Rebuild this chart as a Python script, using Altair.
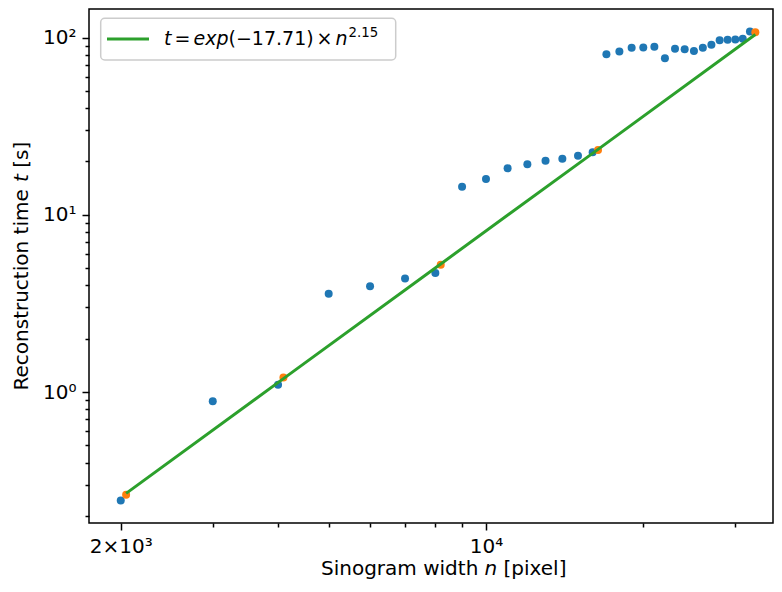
import altair as alt
import pandas as pd

# ---------------- data ----------------
n_blue = [2000, 3000, 4000, 5000, 6000, 7000, 8000, 9000, 10000, 11000,
          12000, 13000, 14000, 15000, 16000, 17000, 18000, 19000, 20000,
          21000, 22000, 23000, 24000, 25000, 26000, 27000, 28000, 29000,
          30000, 31000, 32000]
t_blue = [0.244, 0.888, 1.098, 3.59, 3.95, 4.37, 4.70, 14.4, 15.9, 18.3,
          19.3, 20.2, 20.7, 21.5, 22.5, 80.4, 83.3, 87.7, 88.0,
          88.8, 76.4, 86.5, 85.8, 83.9, 87.7, 91.1, 96.6, 97.1,
          97.5, 98.4, 108.0]

n_orange = [2048, 4096, 8192, 16384, 32768]
t_orange = [0.263, 1.206, 5.23, 23.2, 107.0]

n_fit = [2048, 4096, 8192, 16384, 32768]
t_fit = [0.268, 1.19, 5.28, 23.4, 104.0]

x_ticks = [2000, 3000, 4000, 5000, 6000, 7000, 8000, 9000, 10000, 20000, 30000]
y_ticks = [0.2, 0.3, 0.4, 0.5, 0.6, 0.7, 0.8, 0.9, 1, 2, 3, 4, 5, 6, 7, 8, 9,
           10, 20, 30, 40, 50, 60, 70, 80, 90, 100]

# legend text pieces: t = exp(−17.71) × n^2.15
legend_pieces = ["t", "=", "exp", "(−17.71)", "×", "n", "2.15"]
x_title = ["Sinogram width", "n", "[pixel]"]
y_title = ["Reconstruction time", "t", "[s]"]

# ---------------- layout ----------------
W, H = 684, 514
FONT = "DejaVu Sans"
FS = 20
LFS = 19
BLUE, ORANGE, GREEN = "#1f77b4", "#ff7f0e", "#2ca02c"

df_blue = pd.DataFrame({"n": n_blue, "t": t_blue})
df_orange = pd.DataFrame({"n": n_orange, "t": t_orange})
df_fit = pd.DataFrame({"n": n_fit, "t": t_fit})

x_axis = alt.Axis(
    values=x_ticks,
    labelExpr="datum.value == 2000 ? '2×10³' : (datum.value == 10000 ? '10⁴' : '')",
    tickSize={"condition": {"test": "datum.value == 2000 || datum.value == 10000", "value": 7}, "value": 4},
    tickColor="black", tickWidth=1.5, domain=False, grid=False,
    labelFontSize=FS, labelColor="black", labelPadding=6, labelFont=FONT,
    labelOverlap=False, labelFlush=False, title=None,
)
y_axis = alt.Axis(
    values=y_ticks,
    labelExpr="datum.value == 1 ? '10⁰' : (datum.value == 10 ? '10¹' : (datum.value == 100 ? '10²' : ''))",
    tickSize={"condition": {"test": "datum.value == 1 || datum.value == 10 || datum.value == 100", "value": 7}, "value": 4},
    tickColor="black", tickWidth=1.5, domain=False, grid=False,
    labelFontSize=FS, labelColor="black", labelPadding=6, labelFont=FONT,
    labelOverlap=False, labelFlush=False, title=None,
)

xenc = alt.X("n:Q", scale=alt.Scale(type="log", domain=[1739, 35420], nice=False), axis=x_axis)
yenc = alt.Y("t:Q", scale=alt.Scale(type="log", domain=[0.1824, 144.9], nice=False), axis=y_axis)

blue = alt.Chart(df_blue).mark_circle(size=64, color=BLUE, opacity=1).encode(x=xenc, y=yenc)
orange = alt.Chart(df_orange).mark_circle(size=64, color=ORANGE, opacity=1).encode(x=xenc, y=yenc)
fit = alt.Chart(df_fit).mark_line(color=GREEN, strokeWidth=3).encode(x=xenc, y=yenc)

one = pd.DataFrame({"k": [0]})


def txt(s, x, y, size=FS, style="normal", angle=0, align="left", baseline="alphabetic"):
    return alt.Chart(one).mark_text(
        text=s, font=FONT, fontSize=size, fontStyle=style, color="black",
        align=align, baseline=baseline, angle=angle,
    ).encode(x=alt.value(x), y=alt.value(y))


# legend box
leg_box = alt.Chart(one).mark_rect(
    fill="white", fillOpacity=0.8, stroke="#cccccc", strokeWidth=1.5, cornerRadius=4
).encode(x=alt.value(11.7), x2=alt.value(306.7), y=alt.value(9.3), y2=alt.value(51))
leg_line = alt.Chart(one).mark_rule(color=GREEN, strokeWidth=3).encode(
    x=alt.value(18), x2=alt.value(60), y=alt.value(30))
leg_x = [75, 85.5, 104.5, 139.5, 227.5, 246.5, 259.5]
leg_style = ["italic", "normal", "italic", "normal", "normal", "italic", "normal"]
leg_parts = []
for i, piece in enumerate(legend_pieces):
    if i == len(legend_pieces) - 1:
        leg_parts.append(txt(piece, leg_x[i], 27.5, size=13.3))
    else:
        leg_parts.append(txt(piece, leg_x[i], 36, size=LFS, style=leg_style[i]))

# axis titles built from pieces so that the variable is italic
TY = 566
xt = [
    txt(x_title[0], 232, TY),
    txt(x_title[1], 395.4, TY, style="italic"),
    txt(x_title[2], 414.5, TY),
]
yt = [
    txt(y_title[0], -61, 381.5, angle=270),
    txt(y_title[1], -61, 173, angle=270, style="italic"),
    txt(y_title[2], -61, 158.8, angle=270),
]

chart = alt.layer(
    blue, orange, fit, leg_box, leg_line, *leg_parts, *xt, *yt
).properties(
    width=W, height=H,
    autosize=alt.AutoSizeParams(type="none"),
    padding={"left": 81, "top": 1, "right": 1, "bottom": 61},
).configure(font=FONT).configure_view(stroke="black", strokeWidth=1.5)

chart.save("out.html", embed_options={"renderer": "svg", "actions": False})
